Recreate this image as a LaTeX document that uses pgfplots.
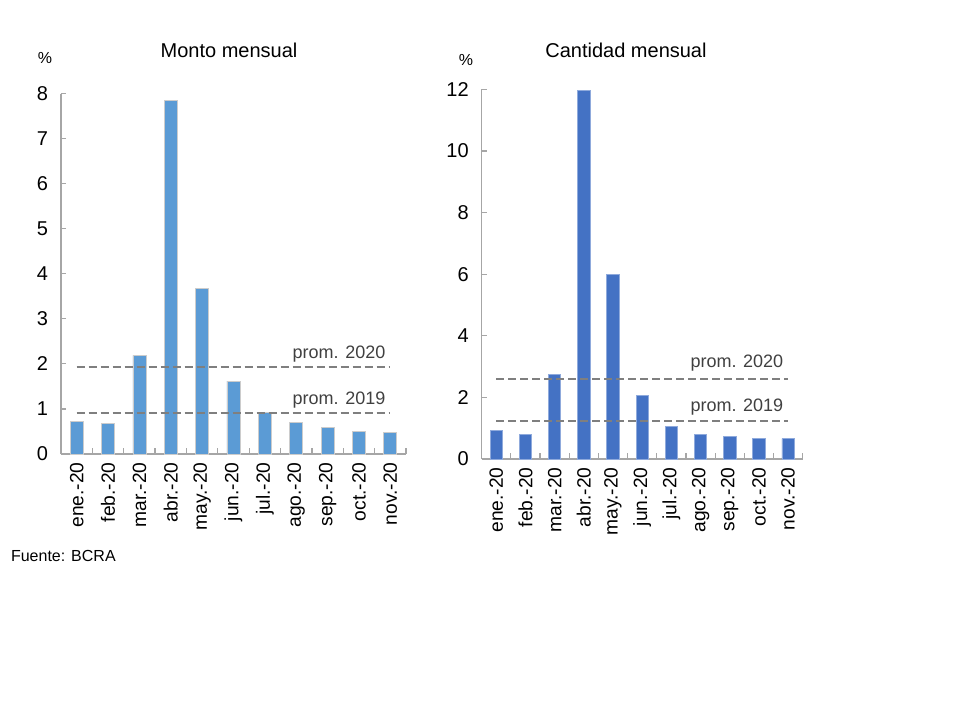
\documentclass[border=0pt]{standalone}
\usepackage{fontspec}
\setmainfont{Liberation Sans}
\usepackage{pgfplots}
\pgfplotsset{compat=1.18}

\definecolor{montobar}{HTML}{5B9BD5}
\definecolor{cantbar}{HTML}{4472C4}
\definecolor{promline}{HTML}{7F7F7F}
\definecolor{axisgray}{HTML}{A6A6A6}

\pgfplotsset{
  bcra/.style={
    scale only axis,
    anchor=south west,
    axis lines*=left,
    axis line style={axisgray, line width=0.6pt},
    xmin=-0.5, xmax=10.5, ymin=0,
    xtick={0,...,10},
    xticklabels={ene.-20,feb.-20,mar.-20,abr.-20,may.-20,jun.-20,jul.-20,ago.-20,sep.-20,oct.-20,nov.-20},
    major x tick style={draw=none},
    minor xtick={0.5,1.5,...,10.5},
    minor x tick style={axisgray, line width=0.6pt},
    minor tick length=3pt,
    major tick length=2.5pt,
    ytick style={axisgray, line width=0.6pt},
    tick align=inside,
    x tick label style={rotate=90, anchor=east, inner sep=2pt, font=\fontsize{9.6}{11}\selectfont},
    xticklabel shift=2pt,
    y tick label style={font=\fontsize{10}{12}\selectfont, xshift=-3pt},
    /pgf/number format/assume math mode=true,
    clip=false,
  },
  promstyle/.style={promline, line width=1pt, dash pattern=on 4pt off 2pt, forget plot},
}
\tikzset{
  promlabel/.style={anchor=south east, font=\fontsize{9}{11}\selectfont, text=black!75, inner sep=1.5pt},
}

\begin{document}
\begin{tikzpicture}
\path (0pt,0pt) rectangle (480pt,-360pt);

\node[font=\fontsize{10}{12}\selectfont] at (114.5pt,-25pt) {Monto mensual};
\node[font=\fontsize{10}{12}\selectfont] at (313pt,-25pt) {Cantidad mensual};
\node[font=\fontsize{8}{9}\selectfont] at (22.5pt,-29pt) {\%};
\node[font=\fontsize{8}{9}\selectfont] at (233pt,-30pt) {\%};
\node[anchor=west, font=\fontsize{8}{10}\selectfont] at (2pt,-278pt) {Fuente: BCRA};

% Monto mensual
\begin{axis}[bcra,
  at={(30.5pt,-227pt)},
  width=172.5pt, height=180.25pt,
  ymax=8, ytick={0,1,...,8},
]
\addplot[ybar, bar width=6.5pt, fill=montobar, draw=black!20, line width=0.4pt]
  coordinates {(0,0.72) (1,0.67) (2,2.19) (3,7.84) (4,3.68) (5,1.62)
               (6,0.92) (7,0.71) (8,0.58) (9,0.50) (10,0.47)};
\addplot[promstyle] coordinates {(0,1.94) (10,1.94)};
\addplot[promstyle] coordinates {(0,0.91) (10,0.91)};
\node[promlabel] at (axis cs:9.95,1.97) {prom. 2020};
\node[promlabel] at (axis cs:9.95,0.94) {prom. 2019};
\end{axis}

% Cantidad mensual
\begin{axis}[bcra,
  at={(240.85pt,-229.5pt)},
  width=160.5pt, height=184.85pt,
  ymax=12, ytick={0,2,...,12},
]
\addplot[ybar, bar width=6.2pt, fill=cantbar, draw=cantbar!60!white, line width=0.4pt]
  coordinates {(0,0.94) (1,0.81) (2,2.74) (3,11.95) (4,6.00) (5,2.07)
               (6,1.06) (7,0.79) (8,0.72) (9,0.66) (10,0.66)};
\addplot[promstyle] coordinates {(0,2.59) (10,2.59)};
\addplot[promstyle] coordinates {(0,1.24) (10,1.24)};
\node[promlabel] at (axis cs:9.95,2.75) {prom. 2020};
\node[promlabel] at (axis cs:9.95,1.30) {prom. 2019};
\end{axis}
\end{tikzpicture}
\end{document}
